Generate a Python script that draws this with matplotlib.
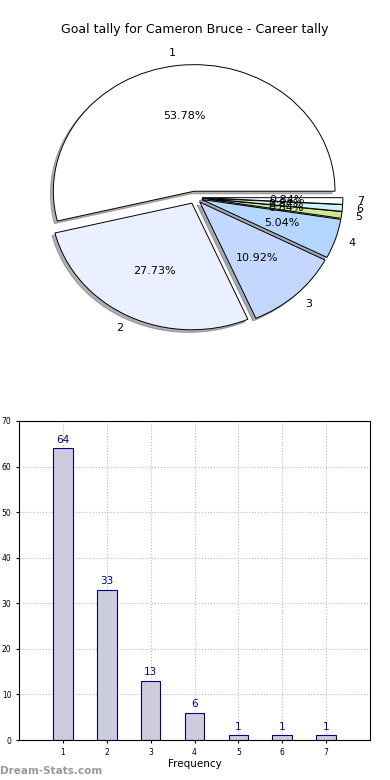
import matplotlib.pyplot as plt
import numpy as np

goals = [1, 2, 3, 4, 5, 6, 7]
freq = [64, 33, 13, 6, 1, 1, 1]
labels = ['1', '2', '3', '4', '5', '6', '7']
colors = ['#ffffff', '#eaf0ff', '#c4d8ff', '#b3d6ff', '#cce890', '#ccf4ff', '#ffffff']

fig = plt.figure(figsize=(3.9, 7.8), dpi=100)

# pie (old style, not equal aspect)
ax1 = fig.add_axes([26 / 390, 1 - 357 / 780, 338 / 390, 319 / 780])
wedges, texts, autotexts = ax1.pie(freq, labels=labels, colors=colors, explode=[0.05] * 7,
                                   autopct='%1.2f%%', startangle=0,
                                   shadow={'ox': -0.015, 'oy': -0.015, 'shade': 0.6},
                                   wedgeprops={'edgecolor': 'black', 'linewidth': 0.7},
                                   textprops={'fontsize': 8})
ax1.set_aspect('auto')
ax1.set_xlim(-1.2, 1.2)
ax1.set_ylim(-1.26, 1.26)
fig.text(0.5, 1 - 30 / 780, 'Goal tally for Cameron Bruce - Career tally',
         ha='center', va='center', fontsize=9)

# bar chart
ax2 = fig.add_axes([19 / 390, 40 / 780, 351 / 390, 319 / 780])
ax2.bar(goals, freq, width=0.45, color='#ccccdd', edgecolor='#000080', linewidth=0.8, zorder=2)
for g, f in zip(goals, freq):
    ax2.text(g, f + 0.8, str(f), ha='center', va='bottom', color='#000080', fontsize=7.5)
ax2.set_xlim(0, 8)
ax2.set_ylim(0, 70)
ax2.set_xticks(goals)
ax2.set_yticks(np.arange(0, 71, 10))
ax2.tick_params(labelsize=5.5, length=2)
ax2.grid(True, linestyle=':', color='#bbbbbb', linewidth=0.8, zorder=0)
ax2.set_axisbelow(True)
ax2.set_xlabel('Frequency', fontsize=7.5, labelpad=2)

fig.text(0.0, 1 - 771 / 780, 'Dream-Stats.com', color='#999999', fontsize=7.5,
         fontweight='bold', ha='left', va='center')

plt.savefig('out.png', dpi=100)
